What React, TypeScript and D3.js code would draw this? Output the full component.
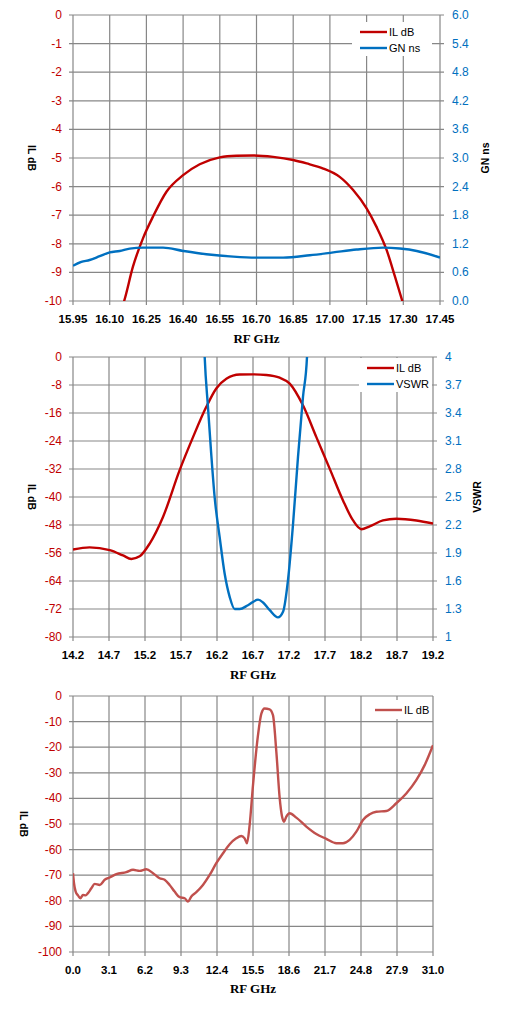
import React, { useEffect, useRef } from 'react';
import * as d3 from 'd3';

// ---- chart 1: narrow band IL + group delay ----
const C1_IL_FREQ = [16.1, 16.159, 16.195, 16.236, 16.277, 16.332, 16.40, 16.468, 16.55, 16.618, 16.686, 16.768, 16.85, 16.905, 16.973, 17.04, 17.095, 17.15, 17.19, 17.232, 17.266, 17.296, 17.33];
const C1_IL = [-11.0, -10.0, -8.8, -7.81, -7.05, -6.18, -5.6, -5.22, -4.98, -4.92, -4.91, -4.96, -5.07, -5.19, -5.37, -5.66, -6.12, -6.76, -7.4, -8.22, -9.15, -10.0, -11.0];
const C1_GN_FREQ = [15.95, 15.984, 16.018, 16.059, 16.10, 16.141, 16.182, 16.236, 16.318, 16.40, 16.495, 16.605, 16.70, 16.809, 16.918, 17.014, 17.109, 17.218, 17.286, 17.355, 17.45];
const C1_GN = [0.74, 0.82, 0.86, 0.94, 1.02, 1.05, 1.10, 1.12, 1.12, 1.05, 0.98, 0.93, 0.91, 0.91, 0.96, 1.02, 1.08, 1.12, 1.10, 1.05, 0.91];
const C1_X_TICKS = [15.95, 16.10, 16.25, 16.40, 16.55, 16.70, 16.85, 17.00, 17.15, 17.30, 17.45];
const C1_L_TICKS = [0, -1, -2, -3, -4, -5, -6, -7, -8, -9, -10];
const C1_R_TICKS = [6.0, 5.4, 4.8, 4.2, 3.6, 3.0, 2.4, 1.8, 1.2, 0.6, 0.0];

// ---- chart 2: wide band IL + VSWR ----
const C2_IL_FREQ = [14.2, 14.43, 14.71, 14.894, 15.01, 15.126, 15.265, 15.45, 15.68, 15.867, 16.05, 16.19, 16.33, 16.515, 16.70, 16.885, 17.07, 17.21, 17.394, 17.58, 17.765, 17.95, 18.09, 18.205, 18.32, 18.505, 18.69, 18.97, 19.2];
const C2_IL = [-55.0, -54.4, -55.2, -56.7, -57.7, -56.95, -53.3, -45.7, -32.4, -22.9, -14.3, -9.0, -6.2, -5.0, -4.95, -5.14, -5.9, -7.6, -13.8, -22.9, -31.9, -41.0, -46.7, -49.2, -48.4, -46.7, -46.2, -46.7, -47.6];
const C2_VSWR_FREQ = [16.01, 16.029, 16.075, 16.12, 16.167, 16.237, 16.306, 16.376, 16.445, 16.515, 16.63, 16.77, 16.84, 16.93, 17.047, 17.117, 17.186, 17.256, 17.325, 17.394, 17.45, 17.47];
const C2_VSWR = [4.4, 4.0, 3.46, 2.96, 2.5, 2.07, 1.68, 1.43, 1.30, 1.30, 1.34, 1.40, 1.37, 1.29, 1.21, 1.27, 1.61, 2.21, 2.93, 3.57, 4.0, 4.4];
const C2_X_TICKS = [14.2, 14.7, 15.2, 15.7, 16.2, 16.7, 17.2, 17.7, 18.2, 18.7, 19.2];
const C2_L_TICKS = [0, -8, -16, -24, -32, -40, -48, -56, -64, -72, -80];
const C2_R_TICKS = [4, 3.7, 3.4, 3.1, 2.8, 2.5, 2.2, 1.9, 1.6, 1.3, 1];

// ---- chart 3: full span IL ----
const C3_FREQ = [0, 0.086, 0.23, 0.43, 0.63, 0.86, 1.09, 1.29, 1.58, 1.87, 2.30, 2.73, 3.16, 3.73, 4.59, 5.17, 5.74, 6.31, 6.89, 7.46, 7.89, 8.32, 8.75, 9.18, 9.62, 9.90, 10.19, 10.62, 11.19, 11.77, 12.34, 12.92, 13.49, 14.06, 14.49, 14.78, 14.98, 15.21, 15.50, 15.93, 16.22, 16.50, 16.93, 17.22, 17.51, 17.80, 18.0, 18.17, 18.37, 18.66, 19.23, 20.09, 20.95, 21.81, 22.68, 23.25, 23.82, 24.40, 24.97, 25.55, 26.12, 26.98, 27.84, 28.70, 29.56, 30.28, 31.0];
const C3_IL = [-69.2, -73.1, -76.4, -77.9, -79.0, -77.7, -77.9, -77.0, -75.1, -73.4, -73.8, -71.8, -70.9, -69.6, -68.8, -67.9, -68.3, -67.7, -69.2, -71.2, -71.8, -73.8, -76.4, -78.6, -79.0, -80.3, -78.3, -76.6, -73.8, -69.9, -65.3, -61.4, -57.9, -55.6, -54.7, -55.6, -57.5, -50.4, -34.8, -15.3, -6.9, -4.9, -5.2, -7.5, -21.8, -40.0, -47.1, -49.1, -47.1, -45.8, -47.5, -51.0, -53.9, -55.8, -57.5, -57.5, -56.2, -53.0, -48.4, -46.2, -45.2, -44.9, -41.9, -38.1, -32.9, -27.0, -19.2];
const C3_X_TICKS = [0.0, 3.1, 6.2, 9.3, 12.4, 15.5, 18.6, 21.7, 24.8, 27.9, 31.0];
const C3_L_TICKS = [0, -10, -20, -30, -40, -50, -60, -70, -80, -90, -100];

const RED = '#c00000';
const BLUE = '#0070c0';
const GRID = '#878787';
const SANS = '"Liberation Sans", Arial, sans-serif';

interface Series { xs: number[]; ys: number[]; color: string; label: string; right?: boolean; }
interface ChartCfg {
  left: number; right: number; top: number; bottom: number;
  xTicks: number[]; xFmt: (v: number) => string;
  lTicks: number[]; rTicks?: number[]; rFmt?: (v: number) => string;
  rTitle?: string; lTitleX: number; xTitleY: number; rTitleX?: number;
  series: Series[];
  legend: { x0: number; y0: number; w: number; h: number; };
}

function drawChart(svg: d3.Selection<SVGSVGElement, unknown, null, undefined>, cfg: ChartCfg, id: string) {
  const x = d3.scaleLinear().domain([cfg.xTicks[0], cfg.xTicks[cfg.xTicks.length - 1]]).range([cfg.left, cfg.right]);
  const yL = d3.scaleLinear().domain([d3.min(cfg.lTicks)!, d3.max(cfg.lTicks)!]).range([cfg.bottom, cfg.top]);
  const yR = cfg.rTicks
    ? d3.scaleLinear().domain([d3.min(cfg.rTicks)!, d3.max(cfg.rTicks)!]).range([cfg.bottom, cfg.top])
    : yL;

  const g = svg.append('g');

  g.append('clipPath').attr('id', id).append('rect')
    .attr('x', cfg.left).attr('y', cfg.top)
    .attr('width', cfg.right - cfg.left).attr('height', cfg.bottom - cfg.top);

  // gridlines
  g.selectAll('.vg').data(cfg.xTicks).enter().append('line')
    .attr('x1', (d) => x(d)).attr('x2', (d) => x(d))
    .attr('y1', cfg.top).attr('y2', cfg.bottom + 4)
    .attr('stroke', GRID).attr('stroke-width', 1.2);
  g.selectAll('.hg').data(cfg.lTicks).enter().append('line')
    .attr('x1', cfg.left - 4).attr('x2', cfg.rTicks ? cfg.right + 4 : cfg.right)
    .attr('y1', (d) => yL(d)).attr('y2', (d) => yL(d))
    .attr('stroke', GRID).attr('stroke-width', 1.2);

  // left tick labels
  g.selectAll('.lt').data(cfg.lTicks).enter().append('text')
    .attr('x', cfg.left - 11).attr('y', (d) => yL(d) + 4)
    .attr('text-anchor', 'end').attr('fill', RED)
    .attr('font-family', SANS).attr('font-size', '12px')
    .text((d) => String(d));

  // right tick labels
  if (cfg.rTicks) {
    g.selectAll('.rt').data(cfg.rTicks).enter().append('text')
      .attr('x', cfg.right + 12).attr('y', (d) => yR(d) + 4)
      .attr('text-anchor', 'start').attr('fill', BLUE)
      .attr('font-family', SANS).attr('font-size', '12px')
      .text((d) => (cfg.rFmt ? cfg.rFmt(d) : String(d)));
  }

  // x tick labels
  g.selectAll('.xt').data(cfg.xTicks).enter().append('text')
    .attr('x', (d) => x(d)).attr('y', cfg.bottom + 22)
    .attr('text-anchor', 'middle').attr('fill', '#000')
    .attr('font-family', SANS).attr('font-size', '11.5px').attr('font-weight', 'bold')
    .text((d) => cfg.xFmt(d));

  // axis titles
  g.append('text')
    .attr('transform', `translate(${cfg.lTitleX}, ${(cfg.top + cfg.bottom) / 2}) rotate(90)`)
    .attr('text-anchor', 'middle').attr('font-family', SANS)
    .attr('font-size', '10.5px').attr('font-weight', 'bold')
    .text('IL dB');
  if (cfg.rTitle) {
    g.append('text')
      .attr('transform', `translate(${cfg.rTitleX}, ${(cfg.top + cfg.bottom) / 2}) rotate(-90)`)
      .attr('text-anchor', 'middle').attr('font-family', SANS)
      .attr('font-size', '10.5px').attr('font-weight', 'bold')
      .text(cfg.rTitle);
  }
  g.append('text')
    .attr('x', (cfg.left + cfg.right) / 2).attr('y', cfg.xTitleY)
    .attr('text-anchor', 'middle')
    .attr('font-family', '"Liberation Serif", "Times New Roman", serif')
    .attr('font-size', '13px').attr('font-weight', 'bold')
    .text('RF  GHz');

  // legend box (white, covers gridlines)
  const lg = cfg.legend;
  g.append('rect')
    .attr('x', lg.x0).attr('y', lg.y0).attr('width', lg.w).attr('height', lg.h)
    .attr('fill', '#fff');

  // series
  const plot = g.append('g').attr('clip-path', `url(#${id})`);
  cfg.series.forEach((s, i) => {
    const ys = s.right ? yR : yL;
    const line = d3.line<number>()
      .x((_, k) => x(s.xs[k]))
      .y((d) => ys(d))
      .curve(d3.curveMonotoneX);
    plot.append('path')
      .attr('d', line(s.ys) || '')
      .attr('fill', 'none').attr('stroke', s.color)
      .attr('stroke-width', 2.4).attr('stroke-linejoin', 'round');

    const ly = lg.y0 + 10 + i * 16;
    g.append('line')
      .attr('x1', lg.x0 + 8).attr('x2', lg.x0 + 35)
      .attr('y1', ly).attr('y2', ly)
      .attr('stroke', s.color).attr('stroke-width', 2.4);
    g.append('text')
      .attr('x', lg.x0 + 37).attr('y', ly + 4)
      .attr('font-family', SANS).attr('font-size', '11px').attr('fill', '#000')
      .text(s.label);
  });
}

const App: React.FC = () => {
  const svgRef = useRef<SVGSVGElement>(null);

  useEffect(() => {
    if (!svgRef.current) {
      return;
    }
    const svg = d3.select(svgRef.current);
    svg.selectAll('*').remove();

    drawChart(svg, {
      left: 73, right: 440, top: 15, bottom: 301,
      xTicks: C1_X_TICKS, xFmt: (v) => v.toFixed(2),
      lTicks: C1_L_TICKS, rTicks: C1_R_TICKS, rFmt: (v) => v.toFixed(1),
      rTitle: 'GN ns', lTitleX: 28, rTitleX: 489, xTitleY: 343,
      series: [
        { xs: C1_IL_FREQ, ys: C1_IL, color: RED, label: 'IL dB' },
        { xs: C1_GN_FREQ, ys: C1_GN, color: BLUE, label: 'GN ns', right: true }
      ],
      legend: { x0: 352, y0: 22, w: 80, h: 34 }
    }, 'clip1');

    drawChart(svg, {
      left: 73, right: 433, top: 357, bottom: 637,
      xTicks: C2_X_TICKS, xFmt: (v) => v.toFixed(1),
      lTicks: C2_L_TICKS, rTicks: C2_R_TICKS, rFmt: (v) => String(v),
      rTitle: 'VSWR', lTitleX: 28, rTitleX: 481, xTitleY: 679,
      series: [
        { xs: C2_IL_FREQ, ys: C2_IL, color: RED, label: 'IL dB' },
        { xs: C2_VSWR_FREQ, ys: C2_VSWR, color: BLUE, label: 'VSWR', right: true }
      ],
      legend: { x0: 359, y0: 358, w: 73, h: 34 }
    }, 'clip2');

    drawChart(svg, {
      left: 73, right: 433, top: 696, bottom: 952,
      xTicks: C3_X_TICKS, xFmt: (v) => v.toFixed(1),
      lTicks: C3_L_TICKS, lTitleX: 20, xTitleY: 993,
      series: [
        { xs: C3_FREQ, ys: C3_IL, color: '#c0504d', label: 'IL dB' }
      ],
      legend: { x0: 367, y0: 700, w: 65, h: 19 }
    }, 'clip3');
  }, []);

  return (
    <svg
      ref={svgRef}
      width={509}
      height={1015}
      style={{ position: 'absolute', left: 0, top: 0, background: '#fff' }}
    />
  );
};

export default App;
